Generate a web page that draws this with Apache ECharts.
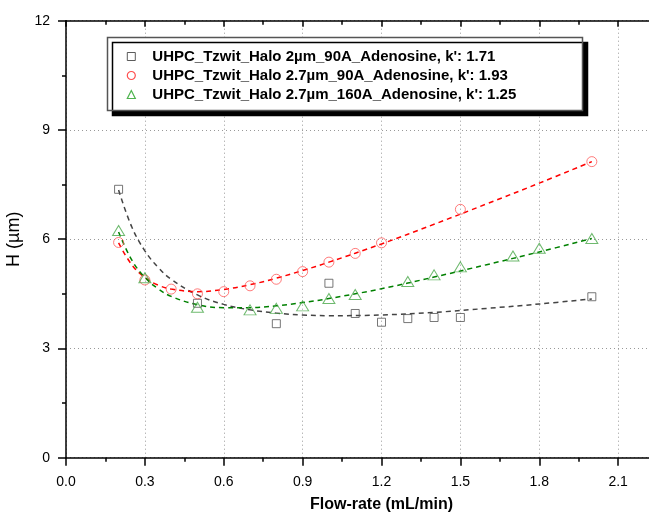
<!DOCTYPE html>
<html>
<head>
<meta charset="utf-8">
<script src="https://cdn.jsdelivr.net/npm/echarts@6/dist/echarts.min.js"></script>
<style>
html,body{margin:0;padding:0;background:#fff;}
#c{width:649px;height:513px;}
</style>
</head>
<body>
<div id="c"></div>
<script>
const nameBlack = "UHPC_Tzwit_Halo 2\u00b5m_90A_Adenosine, k': 1.71";
const nameRed = "UHPC_Tzwit_Halo 2.7\u00b5m_90A_Adenosine, k': 1.93";
const nameGreen = "UHPC_Tzwit_Halo 2.7\u00b5m_160A_Adenosine, k': 1.25";

const flowBlack = [0.2, 0.5, 0.8, 1.0, 1.1, 1.2, 1.3, 1.4, 1.5, 2.0];
const hBlack = [7.37, 4.24, 3.68, 4.79, 3.96, 3.72, 3.82, 3.85, 3.85, 4.42];
const flowRed = [0.2, 0.3, 0.4, 0.5, 0.6, 0.7, 0.8, 0.9, 1.0, 1.1, 1.2, 1.5, 2.0];
const hRed = [5.91, 4.88, 4.63, 4.50, 4.56, 4.72, 4.90, 5.11, 5.37, 5.61, 5.90, 6.82, 8.13];
const flowGreen = [0.2, 0.3, 0.5, 0.7, 0.8, 0.9, 1.0, 1.1, 1.3, 1.4, 1.5, 1.7, 1.8, 2.0];
const hGreen = [6.24, 4.94, 4.13, 4.06, 4.10, 4.17, 4.37, 4.48, 4.84, 5.02, 5.24, 5.54, 5.75, 6.02];

// dashed fit curves
const fitFlow = [0.2, 0.25, 0.3, 0.35, 0.4, 0.5, 0.6, 0.7, 0.8, 0.9, 1.0, 1.2, 1.4, 1.6, 1.8, 2.0];
const fitBlack = [7.35, 6.34, 5.68, 5.23, 4.90, 4.47, 4.21, 4.06, 3.97, 3.92, 3.90, 3.92, 3.99, 4.10, 4.22, 4.36];
const fitRed = [5.90, 5.30, 4.95, 4.74, 4.63, 4.56, 4.62, 4.75, 4.93, 5.14, 5.37, 5.87, 6.41, 6.97, 7.54, 8.13];
const fitGreen = [6.20, 5.43, 4.95, 4.64, 4.43, 4.20, 4.12, 4.12, 4.17, 4.26, 4.37, 4.64, 4.96, 5.30, 5.65, 6.02];

const xTitle = 'Flow-rate (mL/min)';
const yTitle = 'H (\u00b5m)';

function pairs(xs, ys) { return xs.map((x, i) => [x, ys[i]]); }

const FONT = 'Liberation Sans, Arial, sans-serif';
const cBlack = '#555555', cRed = '#ff5a5a', cGreen = '#4aa84a';

const chart = echarts.init(document.getElementById('c'), null, {renderer: 'canvas'});

const axisCommon = {
  type: 'value',
  axisLine: {show: true, onZero: false, lineStyle: {color: '#000', width: 1.5}},
};

chart.setOption({
  animation: false,
  backgroundColor: '#fff',
  grid: {left: 66, top: 20.7, width: 631, height: 437, containLabel: false, outerBoundsMode: 'none'},
  xAxis: [
    Object.assign({}, axisCommon, {
      position: 'bottom', min: 0, max: 2.4, interval: 0.3,
      name: xTitle, nameLocation: 'middle', nameGap: 39,
      nameTextStyle: {fontFamily: FONT, fontSize: 16, fontWeight: 'bold', color: '#000'},
      axisTick: {show: true, inside: false, length: 8, lineStyle: {color: '#000', width: 1.5}},
      minorTick: {show: true, splitNumber: 2, length: 4, lineStyle: {color: '#000', width: 1.5}},
      axisLabel: {show: true, margin: 17, fontFamily: FONT, fontSize: 14, color: '#000',
        formatter: v => v.toFixed(1)},
      splitLine: {show: true, lineStyle: {color: '#999', type: [1, 3], width: 1}},
    }),
    Object.assign({}, axisCommon, {
      position: 'top', min: 0, max: 2.4, interval: 0.3,
      axisTick: {show: true, inside: true, length: 6, lineStyle: {color: '#000', width: 1.5}},
      minorTick: {show: true, splitNumber: 2, length: 4, lineStyle: {color: '#000', width: 1.5}},
      axisLabel: {show: false},
      splitLine: {show: false},
    })
  ],
  yAxis: [
    Object.assign({}, axisCommon, {
      position: 'left', min: 0, max: 12, interval: 3,
      name: yTitle, nameLocation: 'middle', nameGap: 32,
      nameTextStyle: {fontFamily: FONT, fontSize: 18, color: '#000'},
      axisTick: {show: true, inside: false, length: 8, lineStyle: {color: '#000', width: 1.5}},
      minorTick: {show: true, splitNumber: 2, length: 4, lineStyle: {color: '#000', width: 1.5}},
      axisLabel: {show: true, margin: 16, fontFamily: FONT, fontSize: 14, color: '#000'},
      splitLine: {show: true, lineStyle: {color: '#999', type: [1, 3], width: 1}},
    })
  ],
  graphic: [{
    type: 'rect', z: 20,
    shape: {x: 107.5, y: 37.5, width: 475, height: 73},
    style: {fill: '#fff', stroke: '#555', lineWidth: 1.5,
      shadowColor: '#000', shadowBlur: 0, shadowOffsetX: 5, shadowOffsetY: 5}
  }],
  legend: {
    z: 30, orient: 'vertical', left: 126.7, top: 48.5, padding: 0,
    itemWidth: 8, itemHeight: 8, itemGap: 3, symbolKeepAspect: true,
    textStyle: {fontFamily: FONT, fontSize: 15, fontWeight: 'bold', color: '#000', lineHeight: 16,
      padding: [0, 0, 0, 12]},
    data: [
      {name: nameBlack, icon: 'rect', itemStyle: {color: 'rgba(0,0,0,0)', borderColor: '#333', borderWidth: 1}},
      {name: nameRed, icon: 'circle', itemStyle: {color: 'rgba(0,0,0,0)', borderColor: '#ff2020', borderWidth: 1.2}},
      {name: nameGreen, icon: 'triangle', itemStyle: {color: 'rgba(0,0,0,0)', borderColor: '#22a022', borderWidth: 1.2}}
    ]
  },
  series: [
    {type: 'line', name: 'fitBlack', data: pairs(fitFlow, fitBlack), smooth: 0.4, showSymbol: false, symbol: 'none',
      lineStyle: {color: '#444', width: 1.5, type: [5, 4]}, z: 2},
    {type: 'line', name: 'fitRed', data: pairs(fitFlow, fitRed), smooth: 0.4, showSymbol: false, symbol: 'none',
      lineStyle: {color: '#ff0000', width: 1.5, type: [5, 4]}, z: 2},
    {type: 'line', name: 'fitGreen', data: pairs(fitFlow, fitGreen), smooth: 0.4, showSymbol: false, symbol: 'none',
      lineStyle: {color: '#008000', width: 1.5, type: [5, 4]}, z: 2},
    {type: 'scatter', name: nameBlack, data: pairs(flowBlack, hBlack), symbol: 'rect', symbolSize: 8,
      itemStyle: {color: 'rgba(0,0,0,0)', borderColor: cBlack, borderWidth: 1}, z: 3},
    {type: 'scatter', name: nameRed, data: pairs(flowRed, hRed), symbol: 'circle', symbolSize: 10,
      itemStyle: {color: 'rgba(0,0,0,0)', borderColor: cRed, borderWidth: 1}, z: 3},
    {type: 'scatter', name: nameGreen, data: pairs(flowGreen, hGreen), symbol: 'triangle', symbolSize: [12, 10],
      itemStyle: {color: 'rgba(0,0,0,0)', borderColor: cGreen, borderWidth: 1}, z: 3}
  ]
});
</script>
</body>
</html>
